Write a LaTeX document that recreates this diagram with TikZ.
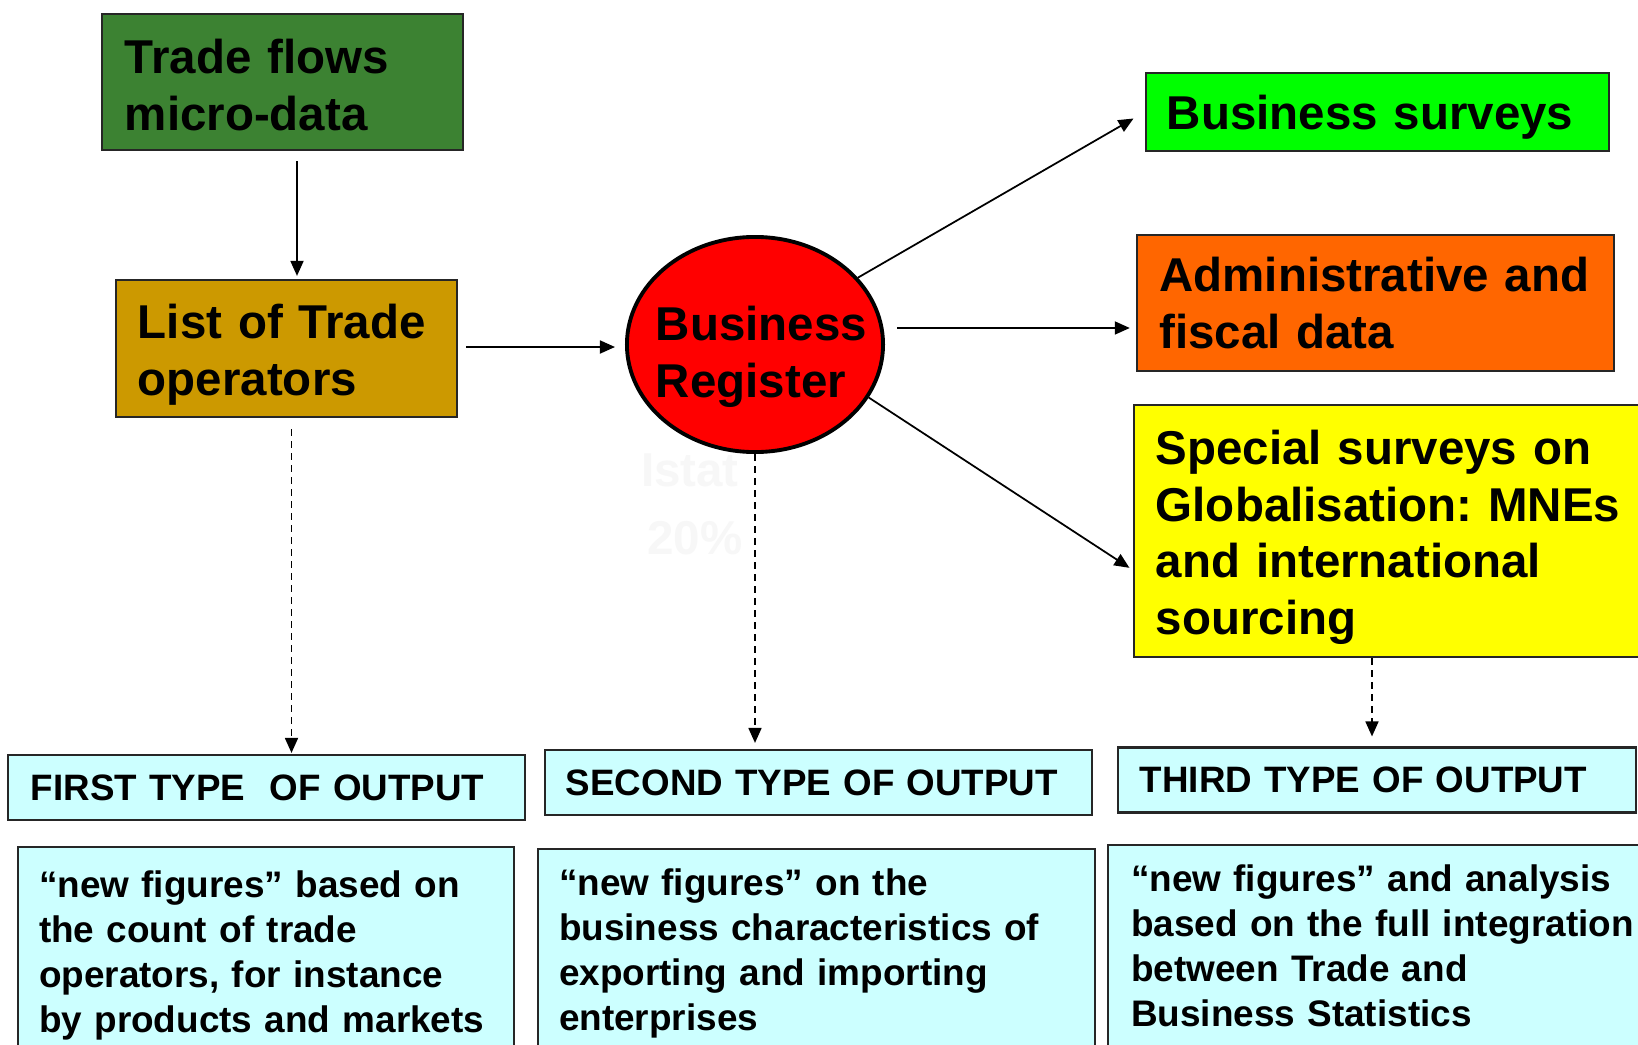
\documentclass[tikz,border=0pt]{standalone}
\usepackage{fontspec}
\setmainfont{Liberation Sans}
\usetikzlibrary{arrows.meta,shapes,positioning}
\definecolor{tradegreen}{RGB}{60,130,50}
\definecolor{listgold}{RGB}{204,153,0}
\definecolor{surveygreen}{RGB}{0,255,0}
\definecolor{fiscalorange}{RGB}{255,102,0}
\definecolor{globyellow}{RGB}{255,255,0}
\definecolor{outputcyan}{RGB}{204,255,255}
\tikzset{
	source/.style={
		rectangle,
		draw=black!85,
		line width=0.6pt,
		align=left,
		inner ysep=0pt,
		font=\bfseries\fontsize{13.5pt}{16.2pt}\selectfont
	},
	register/.style={
		ellipse,
		draw=black,
		line width=1.1pt,
		fill=red,
		inner sep=0pt
	},
	outhead/.style={
		rectangle,
		draw=black!85,
		line width=0.6pt,
		fill=outputcyan,
		align=left,
		inner ysep=0pt,
		minimum height=0.65cm,
		font=\bfseries\fontsize{10.45pt}{12.8pt}\selectfont
	},
	outbody/.style={
		rectangle,
		draw=black!85,
		line width=0.6pt,
		fill=outputcyan,
		align=left,
		anchor=north west,
		inner xsep=0.21cm,
		inner ysep=0.2cm,
		text depth=2cm,
		font=\bfseries\fontsize{10.5pt}{12.8pt}\selectfont
	},
	watermark/.style={
		text=black!3,
		font=\bfseries\fontsize{13.5pt}{16.2pt}\selectfont
	},
	arrow/.style={
		draw=black,
		line width=0.5pt,
		-{Triangle[length=0.15cm,width=0.13cm]}
	},
	dasharrow/.style={
		arrow,
		dash pattern=on 0.07cm off 0.05cm
	},
}

\begin{document}
\begin{tikzpicture}[x=0.01cm,y=-0.01cm]
	\useasboundingbox (0,0) rectangle (1638,1045);
	\clip (0,0) rectangle (1638,1045);
	\fill[white] (0,0) rectangle (1638,1045);
	% sources
	\node[source,fill=tradegreen,text width=3.15cm,inner xsep=0.23cm,minimum height=1.36cm,text height=0.4cm] (trade) at (282.5,82) {Trade flows\\micro-data};
	\node[source,fill=listgold,text width=2.97cm,inner xsep=0.22cm,minimum height=1.37cm,text height=0.46cm] (list) at (286.5,348.5) {List~of~Trade\\operators};
	\node[register,minimum width=2.56cm,minimum height=2.15cm,
		label={[font=\bfseries\fontsize{13.5pt}{16.2pt}\selectfont,align=left,xshift=0.065cm,yshift=-0.12cm]center:{Business\\Register}}] (br) at (755,344.5) {};
	\node[source,fill=surveygreen,text width=4.21cm,inner xsep=0.21cm,minimum height=0.78cm,text depth=0pt] (bs) at (1377.5,112) {Business surveys};
	\node[source,fill=fiscalorange,text width=4.32cm,inner xsep=0.225cm,minimum height=1.36cm] (admin) at (1375.5,303) {Administrative~and\\fiscal data};
	\node[source,fill=globyellow,text width=4.82cm,inner xsep=0.22cm,minimum height=2.52cm,text height=0.47cm] (special) at (1397,531) {Special surveys on\\Globalisation:~MNEs\\and international\\sourcing};
	\node[watermark] (istat) at (690,470) {Istat};
	\node[watermark] (share) at (695,538) {20\%};
	% outputs
	\node[outhead,text width=4.71cm,inner xsep=0.23cm] (first) at (266.5,787.5) {FIRST TYPE~~OF OUTPUT};
	\node[outhead,text width=5.05cm,inner xsep=0.21cm] (second) at (818.5,782.5) {SECOND TYPE OF OUTPUT};
	\node[outhead,text width=4.74cm,inner xsep=0.22cm] (third) at (1377,780) {THIRD TYPE OF OUTPUT};
	\node[outbody,text width=4.54cm,inner ysep=0.24cm] (firstnote) at (17,846) {``new figures'' based on\\the count of trade\\operators, for instance\\by~products~and~markets};
	\node[outbody,text width=5.15cm] (secondnote) at (537,848) {``new figures'' on the\\business~characteristics~of\\exporting and importing\\enterprises};
	\node[outbody,text width=5.6cm,inner xsep=0.23cm] (thirdnote) at (1107,844) {``new figures'' and analysis\\based~on~the~full~integration\\between Trade and\\Business Statistics};
	% connectors
	\draw[arrow,shorten <=0.1cm,shorten >=0.03cm] ([xshift=0.145cm]trade.south) -- ([xshift=0.145cm]trade.south |- list.north);
	\draw[arrow,shorten <=0.08cm,shorten >=0.1cm] ([yshift=0.015cm]list.east) -- ([yshift=0.015cm]list.east -| br.west);
	\draw[arrow,shorten >=0.13cm] (br.33) -- (bs.west);
	\draw[arrow,shorten <=0.12cm,shorten >=0.06cm] ([yshift=0.165cm]br.east) -- ([yshift=0.165cm]br.east -| admin.west);
	\draw[arrow,shorten >=0.04cm] (br.-25) -- ([yshift=-0.39cm]special.west);
	\draw[dasharrow,shorten <=0.11cm,shorten >=0.01cm] ([xshift=0.05cm]list.south) -- ([xshift=0.05cm]list.south |- first.north);
	\draw[dasharrow,shorten >=0.06cm] (br.south) -- (br.south |- second.north);
	\draw[dasharrow,shorten >=0.1cm] ([xshift=-0.05cm]third.north |- special.south) -- ([xshift=-0.05cm]third.north);
\end{tikzpicture}
\end{document}
